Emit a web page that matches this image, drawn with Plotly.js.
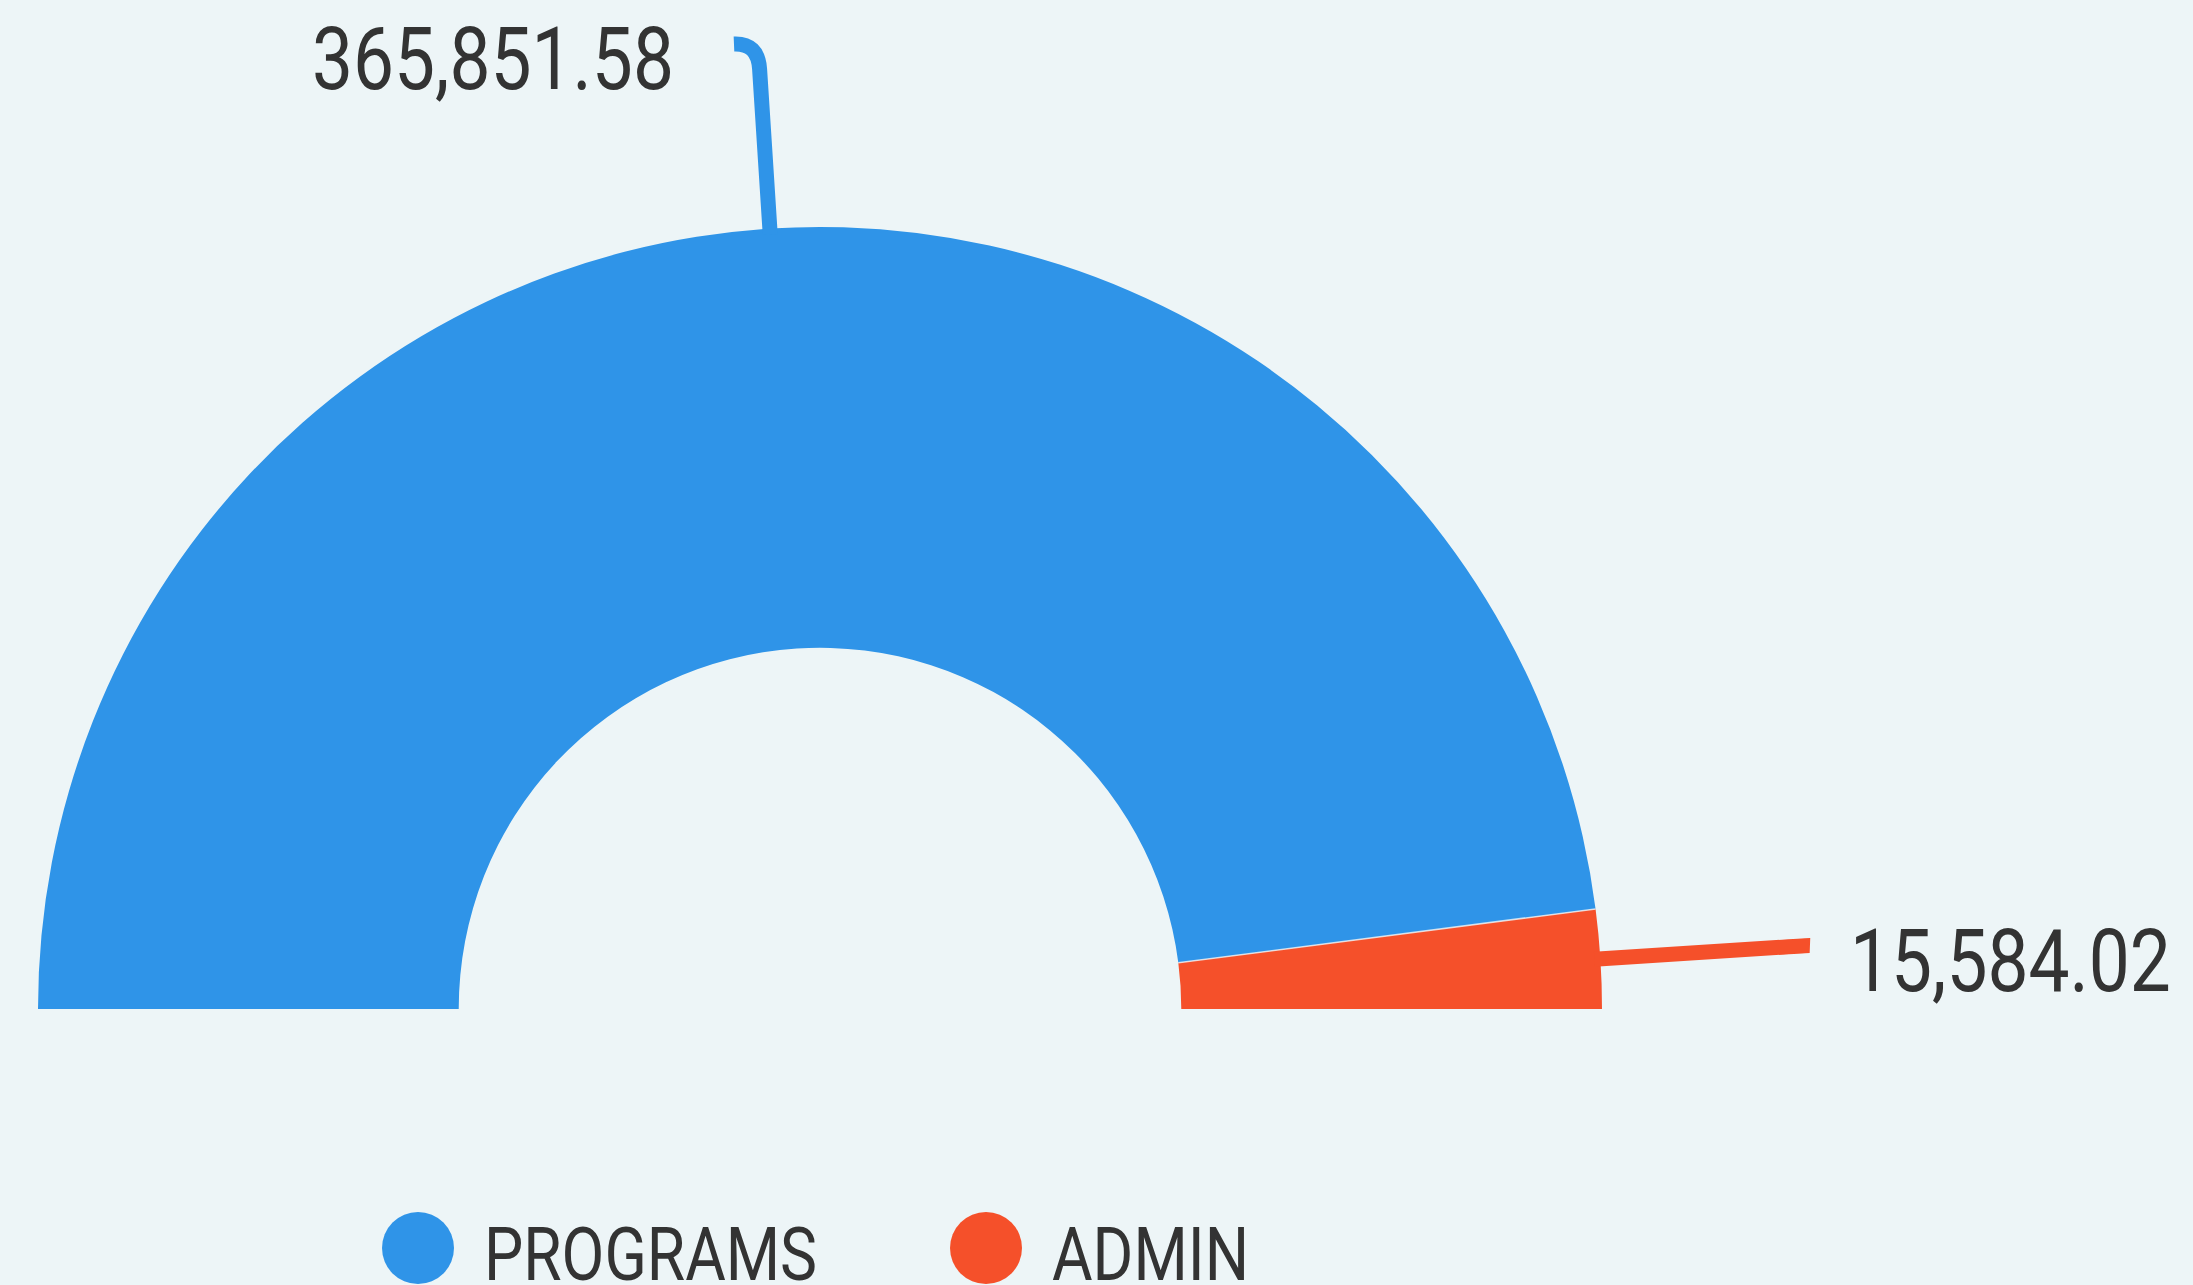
<!DOCTYPE html>
<html>
<head>
<meta charset="utf-8">
<script src="https://cdn.plot.ly/plotly-3.0.1.min.js"></script>
<style>
  html, body { margin: 0; padding: 0; background: #EDF5F7; overflow: hidden; }
  #wrap { width: 2193px; height: 1285px; overflow: hidden; position: relative; }
  #chart { width: 2193px; height: 1800px; }
</style>
</head>
<body>
<div id="wrap"><div id="chart"></div></div>
<script>
// ---- data ----
const categories = ['PROGRAMS', 'ADMIN'];
const values = [365851.58, 15584.02];
const colors = ['#2F94E8', '#F5502A'];

// ---- layout constants ----
const W = 2193, H = 1800;
const BG = '#EDF5F7';
const CX = 820, CY = 1009, R = 782, HOLE = 0.462;
const FONT = 'Roboto, sans-serif';
const CONDENSE = 0.83;
const TEXT_COLOR = '#333333';

const total = values.reduce((a, b) => a + b, 0);
const fmt = v => v.toLocaleString('en-US', {minimumFractionDigits: 2, maximumFractionDigits: 2});

// pie: half donut, hidden bottom half
const pie = {
  type: 'pie',
  values: values.concat([total]),
  labels: categories.concat(['']),
  marker: {
    colors: colors.concat(['rgba(0,0,0,0)']),
    line: {width: 0}
  },
  hole: HOLE,
  sort: false,
  direction: 'clockwise',
  rotation: -90,
  textinfo: 'none',
  hoverinfo: 'skip',
  showlegend: false,
  domain: {
    x: [(CX - R) / W, (CX + R) / W],
    y: [1 - (CY + R) / H, 1 - (CY - R) / H]
  }
};

// leader lines and value labels computed from the data
const shapes = [];
const lblX = [], lblY = [], lblText = [], lblPos = [];
let cum = 0;
values.forEach((v, i) => {
  const f = (cum + v / 2) / total;
  // thin seam between slices
  if (i > 0) {
    const a = (cum / total) * Math.PI;
    shapes.push({
      type: 'line', xref: 'x', yref: 'y', layer: 'above',
      x0: CX - R * HOLE * Math.cos(a), y0: CY - R * HOLE * Math.sin(a),
      x1: CX - R * Math.cos(a), y1: CY - R * Math.sin(a),
      line: {color: 'rgba(237,245,247,0.8)', width: 1.5}
    });
  }
  cum += v;
  const th = f * Math.PI;             // 0 = left, PI/2 = top, PI = right
  const s = Math.abs(Math.sin(th));
  const pt = d => [CX - d * Math.cos(th), CY - d * Math.sin(th)];
  const side = Math.cos(th) > 0 ? -1 : 1;
  const ext = 186 + 24 * (1 - s), hook = 24 * s;
  const p0 = pt(R - 6), pa = pt(R + ext - 26), p1 = pt(R + ext);
  const pe = [p1[0] + side * hook, p1[1] + s];
  shapes.push({
    type: 'path', xref: 'x', yref: 'y', layer: 'above',
    path: `M${p0[0]},${p0[1]} L${pa[0]},${pa[1]} Q${p1[0]},${p1[1]} ${pe[0]},${pe[1]}`,
    line: {color: colors[i], width: 15}
  });
  lblX.push(pe[0] + side * 50 - 10);
  lblY.push(pe[1] + 23);
  lblText.push(fmt(v));
  lblPos.push(side > 0 ? 'middle right' : 'middle left');
});

const labels = {
  type: 'scatter', mode: 'text', x: lblX, y: lblY, text: lblText,
  textposition: lblPos, cliponaxis: false,
  textfont: {family: FONT, size: 88, color: TEXT_COLOR},
  hoverinfo: 'skip', showlegend: false
};

// custom legend (big round markers)
const legX = [418, 986], legY = 1248;
const legendDots = {
  type: 'scatter', mode: 'markers', x: legX, y: legX.map(() => legY),
  marker: {size: 72, color: colors, line: {width: 0}},
  cliponaxis: false, hoverinfo: 'skip', showlegend: false
};
const legendText = {
  type: 'scatter', mode: 'text', x: legX.map(x => x + 66), y: legX.map(() => legY + 13),
  text: categories, textposition: 'middle right', cliponaxis: false,
  textfont: {family: FONT, size: 75, color: TEXT_COLOR},
  hoverinfo: 'skip', showlegend: false
};

const layout = {
  width: W, height: H,
  margin: {l: 0, r: 0, t: 0, b: 0, pad: 0},
  paper_bgcolor: BG, plot_bgcolor: 'rgba(0,0,0,0)',
  showlegend: false,
  xaxis: {range: [0, W], visible: false, fixedrange: true, domain: [0, 1]},
  yaxis: {range: [H, 0], visible: false, fixedrange: true, domain: [0, 1]},
  shapes: shapes
};

Plotly.newPlot('chart', [legendDots, legendText, labels, pie], layout, {displayModeBar: false, staticPlot: true})
  .then(gd => {
    // condense the text horizontally around its anchor (reference uses a condensed face)
    gd.querySelectorAll('g.textpoint text').forEach(t => {
      const x = parseFloat(t.getAttribute('x')) || 0;
      const prev = t.getAttribute('transform') || '';
      t.setAttribute('transform',
        `${prev} translate(${x},0) scale(${CONDENSE},1) translate(${-x},0)`.trim());
    });
  });
</script>
</body>
</html>
